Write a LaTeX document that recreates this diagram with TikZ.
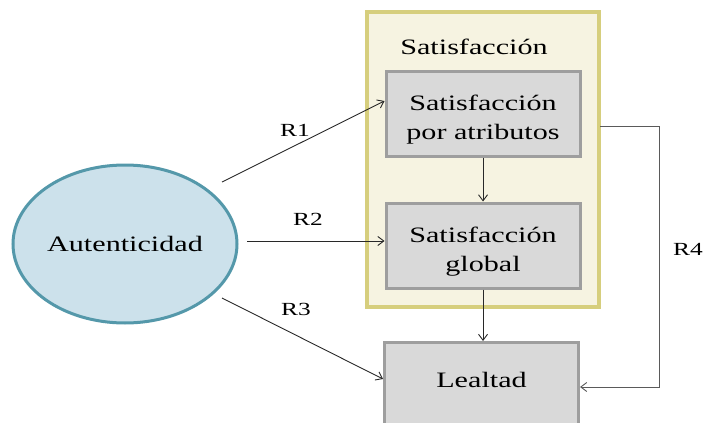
\documentclass[tikz,border=0pt]{standalone}
\usepackage{fontspec}
\setmainfont[FakeStretch=1.37]{Liberation Serif}
\usetikzlibrary{arrows.meta,shapes.geometric,calc}
\definecolor{ellfill}{RGB}{204,225,235}
\definecolor{elldraw}{RGB}{84,152,170}
\definecolor{boxfill}{RGB}{217,217,217}
\definecolor{boxdraw}{RGB}{158,158,158}
\definecolor{satfill}{RGB}{246,243,225}
\definecolor{satdraw}{RGB}{214,206,125}
\definecolor{linedark}{RGB}{40,40,40}
\definecolor{linegray}{RGB}{90,90,90}
\tikzset{
  txt/.style={font=\fontsize{22}{29.5}\selectfont, text=black},
  lbl/.style={font=\fontsize{18.5}{22}\selectfont, text=black, inner sep=0pt},
  graybox/.style={draw=boxdraw, fill=boxfill, line width=3pt, minimum width=194pt, inner sep=0pt},
  boxtext/.style={label={[txt, align=center, inner sep=0pt, yshift=-6pt]center:#1}},
  arr/.style={draw=linedark, line width=0.9pt, -{Straight Barb[length=6pt,width=9pt]}},
  arrg/.style={draw=linegray, line width=0.9pt, -{Straight Barb[length=6pt,width=9pt]}}
}
\begin{document}
\begin{tikzpicture}[x=1pt,y=-1pt]
\useasboundingbox (0,0) rectangle (705,423);
\clip (0,0) rectangle (705,423);
% container
\node[draw=satdraw, fill=satfill, line width=3.5pt, minimum width=232pt, minimum height=295pt, inner sep=0pt] (sat) at (483,159.5) {};
\node[txt, inner sep=0pt] (sattitle) at (474,47) {Satisfacción};
% boxes
\node[graybox, minimum height=85pt, boxtext={Satisfacción\\por atributos}] (b1) at (483,113.5) {};
\node[graybox, minimum height=85pt, boxtext={Satisfacción\\global}] (b2) at (483,245.5) {};
\node[graybox, txt, anchor=north, inner ysep=0pt, text height=45pt, text depth=70pt] (leal) at (481.5,341) {Lealtad};
% ellipse
\node[ellipse, draw=elldraw, fill=ellfill, line width=3pt, minimum width=224pt, minimum height=158pt, inner sep=0pt, txt] (aut) at (125,244) {Autenticidad};
% free ends
\coordinate (r1s) at (222,182);
\coordinate (r2s) at (247,241);
\coordinate (r3s) at (222,298);
\coordinate (r4s) at (600,126);
\coordinate (r4a) at (659,126);
\coordinate (r4b) at (659,387);
% connectors
\draw[arr] (r1s) -- ([yshift=12.5pt]b1.west);
\draw[arr] (r2s) -- ([yshift=4.5pt]b2.west);
\draw[arr] (r3s) -- (leal.west |- 0,379);
\draw[arr] (b1.south) -- (b2.north);
\draw[arr] (b2.south) -- (b2.south |- leal.north);
\draw[arrg] (r4s) -- (r4a) -- (r4b) -- (leal.east |- r4b);
% labels
\node[lbl] (l1) at (295,130) {R1};
\node[lbl] (l2) at (308,219) {R2};
\node[lbl] (l3) at (296,309) {R3};
\node[lbl] (l4) at (688,249) {R4};
\end{tikzpicture}
\end{document}
